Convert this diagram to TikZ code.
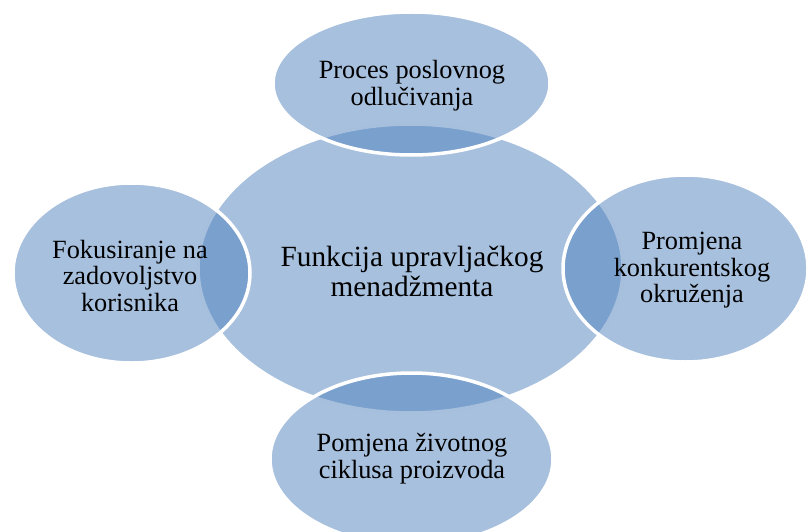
\documentclass[tikz,border=0pt]{standalone}
\usepackage{fontspec}
\setmainfont{Liberation Serif}
\usetikzlibrary{shapes.geometric}
\definecolor{vennblue}{HTML}{4F81BD}
\begin{document}
\begin{tikzpicture}[x=1pt,y=-1pt,
  venn/.style={ellipse, fill=vennblue, fill opacity=0.5, draw=white, line width=3.5pt, inner sep=0pt, outer sep=0pt},
  lbl/.style={align=center, text=black, inner sep=0pt, font=\fontsize{26.3}{26.7}\selectfont},
  bigl/.style={align=center, text=black, inner sep=0pt, font=\fontsize{29.3}{30}\selectfont}]
\useasboundingbox (0,0) rectangle (808,532);
\node[venn, minimum width=425pt, minimum height=289pt] (c) at (410.5,268.5) {};
\node[venn, minimum width=277pt, minimum height=143pt] (t) at (411.5,83.5) {};
\node[venn, minimum width=237pt, minimum height=180pt] (l) at (131.5,273) {};
\node[venn, minimum width=245pt, minimum height=187pt] (r) at (685.5,268.5) {};
\node[venn, minimum width=283pt, minimum height=172pt] (b) at (411.5,459) {};
\node[bigl] (ct) at (412,271) {Funkcija upravljačkog\\menadžmenta};
\node[lbl] (tt) at (412,85.5) {Proces poslovnog\\odlučivanja};
\node[lbl] (lt) at (130,275.8) {Fokusiranje na\\zadovoljstvo\\korisnika};
\node[lbl] (rt) at (692,270.3) {Promjena\\konkurentskog\\okruženja};
\node[lbl] (bt) at (412,458.8) {Pomjena životnog\\ciklusa proizvoda};
\end{tikzpicture}
\end{document}
